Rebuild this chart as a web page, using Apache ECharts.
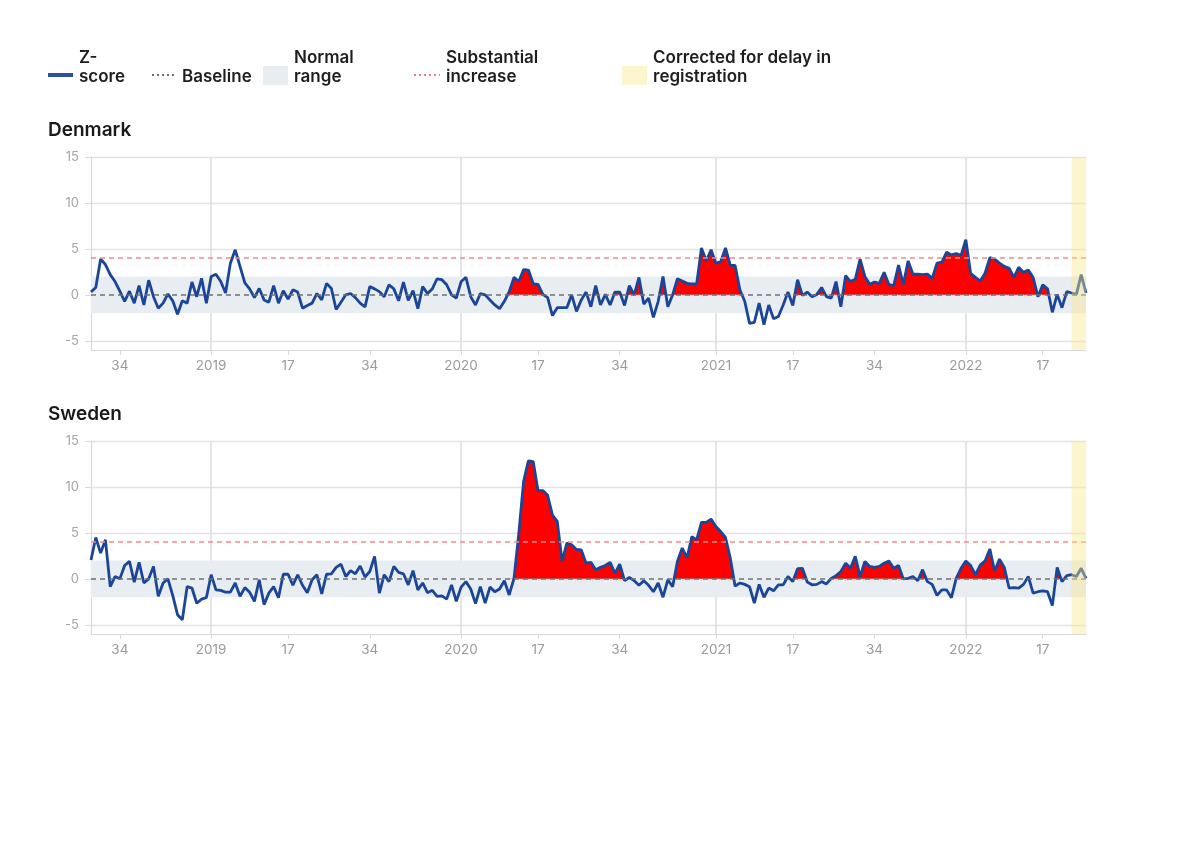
<!DOCTYPE html>
<html>
<head>
<meta charset="utf-8">
<script src="https://cdn.jsdelivr.net/npm/echarts@6/dist/echarts.min.js"></script>
<style>
  html, body { margin: 0; padding: 0; background: #fff; }
  #main { width: 1200px; height: 861px; }
</style>
</head>
<body>
<div id="main"></div>
<script>
// weekly z-scores, 2018 week 28 .. 2022 week 26
var yearWeeks = [[2018, 28, 52], [2019, 1, 52], [2020, 1, 53], [2021, 1, 52], [2022, 1, 26]];
var weeks = [];
yearWeeks.forEach(function (y) {
    for (var w = y[1]; w <= y[2]; w++) weeks.push(y[0] + '-' + w);
});

var labelWeeks = [1, 17, 34];
var yTicks = [-5, 0, 5, 10, 15];

var denmarkZ = [
    0.3, 0.8, 3.9, 3.3, 2.2, 1.45, 0.4, -0.7, 0.4, -0.9,
    1.0, -1.1, 1.6, -0.2, -1.45, -0.9, 0.1, -0.65, -2.1, -0.65,
    -0.9, 1.4, -0.2, 1.8, -0.9, 2.0, 2.25, 1.45, 0.2, 3.45,
    4.9, 3.1, 1.3, 0.65, -0.3, 0.7, -0.55, -0.8, 1.0, -0.9,
    0.45, -0.45, 0.55, 0.3, -1.45, -1.15, -0.9, 0.15, -0.55, 1.25,
    0.7, -1.6, -0.8, 0, 0.15, -0.3, -0.9, -1.3, 0.9, 0.65,
    0.35, -0.2, 1.1, 0.65, -0.65, 1.4, -0.6, 0.45, -1.5, 0.9,
    0.15, 0.65, 1.75, 1.65, 1.1, 0, -0.35, 1.45, 1.9, -0.2,
    -1.1, 0.15, 0, -0.55, -1.1, -1.5, -0.7, 0.35, 1.9, 1.45,
    2.75, 2.7, 1.2, 1.15, 0.05, -0.3, -2.25, -1.4, -1.4, -1.4,
    0, -1.8, -0.55, 0.3, -1.3, 1.0, -1.1, 0.05, -1.1, 0.3,
    0.3, -1.15, 1.0, 0, 1.9, -1.0, -0.35, -2.45, -0.7, 2.0,
    -1.3, 0, 1.75, 1.5, 1.25, 1.2, 1.2, 5.1, 3.7, 4.9,
    3.45, 3.6, 5.1, 3.2, 3.2, 0.55, -0.7, -3.1, -3.0, -0.9,
    -3.25, -1.1, -2.6, -2.35, -1.1, 0.3, -1.15, 1.65, -0.05, 0.3,
    -0.2, 0.05, 0.8, -0.2, -0.35, 1.45, -1.3, 2.1, 1.45, 1.7,
    3.9, 2.0, 1.15, 1.4, 1.25, 2.45, 1.1, 1.0, 3.25, 1.15,
    3.7, 2.25, 2.25, 2.2, 2.25, 1.8, 3.45, 3.55, 4.65, 4.35,
    4.5, 4.3, 6.0, 2.35, 1.9, 1.5, 2.35, 4.05, 3.9, 3.45,
    3.1, 2.9, 1.9, 3.0, 2.45, 2.7, 1.9, -0.2, 1.1, 0.65,
    -1.9, 0.05, -1.4, 0.35, 0.2, 0.05, 2.2, 0.2
];

var swedenZ = [
    2.05, 4.5, 2.8, 4.25, -0.85, 0.25, 0, 1.45, 1.9, -0.35,
    1.8, -0.45, 0, 1.35, -1.9, -0.45, 0, -1.8, -3.9, -4.45,
    -0.85, -1.0, -2.65, -2.2, -2.05, 0.45, -1.2, -1.25, -1.45, -1.45,
    -0.45, -1.9, -0.95, -1.45, -2.45, -0.1, -2.8, -1.55, -0.85, -2.05,
    0.5, 0.5, -0.7, 0.45, -0.7, -1.5, -0.1, 0.45, -1.65, 0.5,
    0.55, 1.25, 1.6, 0.25, 0.9, 0.55, 1.4, 0.2, 0.8, 2.45,
    -1.55, 0.45, -0.3, 1.35, 0.7, 0.55, -0.65, 0.9, -1.2, -0.45,
    -1.5, -1.25, -1.9, -1.85, -2.2, -0.65, -2.45, -0.9, -0.3, -1.1,
    -2.7, -0.85, -2.65, -0.9, -1.4, -1.1, -0.2, -1.75, 0.05, 4.95,
    10.6, 12.85, 12.75, 9.6, 9.6, 9.1, 6.95, 6.25, 1.9, 3.9,
    3.7, 3.2, 3.15, 1.7, 1.8, 1.0, 1.25, 1.45, 1.8, 0.6,
    1.6, -0.2, 0.15, -0.2, -0.7, -0.2, -0.7, -1.4, -0.45, -2.0,
    -0.1, -0.85, 1.9, 3.35, 2.3, 4.6, 4.25, 6.15, 6.15, 6.5,
    5.7, 5.15, 4.5, 2.25, -0.8, -0.45, -0.6, -0.85, -2.65, -0.6,
    -2.0, -1.0, -1.3, -0.65, -0.65, 0.25, -0.3, 1.1, 1.15, -0.35,
    -0.65, -0.6, -0.3, -0.55, 0.05, 0.35, 0.8, 1.7, 1.15, 2.45,
    0.25, 1.9, 1.35, 1.25, 1.35, 1.7, 1.95, 1.15, 1.45, 0,
    0.05, 0.25, -0.2, 1.0, -0.3, -0.6, -1.8, -1.2, -1.2, -2.05,
    0.05, 1.15, 1.95, 1.45, 0.45, 1.5, 1.95, 3.25, 0.8, 2.15,
    1.25, -1.0, -0.95, -1.0, -0.6, 0.25, -1.55, -1.4, -1.3, -1.4,
    -2.9, 1.25, -0.3, 0.35, 0.45, 0.25, 1.15, 0.05
];

// weeks flagged as excess (red fill)
var denmarkExcess = [
    ['2020-11', '2020-18'], ['2020-29', '2020-29'], ['2020-33', '2020-34'],
    ['2020-36', '2020-36'], ['2020-38', '2020-38'], ['2020-43', '2020-43'],
    ['2020-45', '2021-6'], ['2021-18', '2021-18'], ['2021-23', '2021-23'],
    ['2021-26', '2021-26'], ['2021-28', '2022-15'], ['2022-17', '2022-18']
];
var swedenExcess = [
    ['2020-12', '2020-34'], ['2020-46', '2021-4'], ['2021-18', '2021-19'],
    ['2021-26', '2021-39'], ['2021-44', '2021-44'], ['2021-51', '2022-9'],
    ['2022-20', '2022-20']
];

var baseline = 0;
var normalRange = [-2, 2];
var substantial = 4;
var delayWeeks = ['2022-23', '2022-26'];

function excessFill(z, ranges) {
    var flag = z.map(function () { return false; });
    ranges.forEach(function (r) {
        var s = weeks.indexOf(r[0]), e = weeks.indexOf(r[1]);
        for (var i = s; i <= e; i++) flag[i] = true;
    });
    return z.map(function (v, i) {
        return (flag[i] || flag[i - 1] || flag[i + 1]) ? v : '-';
    });
}

function weekOf(v) { return +v.split('-')[1]; }
function showWeek(idx, v) { return labelWeeks.indexOf(weekOf(v)) >= 0; }

var FONT = 'Inter';
var BLUE = '#1b4698';

var grids = [
    { left: 91, right: 114, top: 157, height: 193 },
    { left: 91, right: 114, top: 441, height: 193 }
];

function xAxisFor(i) {
    return {
        type: 'category', gridIndex: i, data: weeks, boundaryGap: false,
        axisLine: { onZero: false, lineStyle: { color: '#d9d9d9', width: 1.2 } },
        axisTick: { interval: showWeek, length: 5, lineStyle: { color: '#d9d9d9' } },
        axisLabel: {
            interval: showWeek, color: '#9a9a9a', fontSize: 13.5, fontFamily: FONT, margin: 9,
            formatter: function (v) {
                var p = v.split('-');
                return +p[1] === 1 ? p[0] : p[1];
            }
        },
        splitLine: {
            show: true,
            interval: function (idx, v) { return weekOf(v) === 1; },
            lineStyle: { color: '#dcdcdc', width: 1.5 }
        }
    };
}

function yAxisFor(i) {
    return {
        type: 'value', gridIndex: i, min: -6, max: 15,
        axisLine: { show: true, lineStyle: { color: '#d9d9d9', width: 1.2 } },
        axisTick: { show: true, length: 6, customValues: yTicks, lineStyle: { color: '#d9d9d9' } },
        axisLabel: { customValues: yTicks, color: '#a6a6a6', fontSize: 13, fontFamily: FONT, margin: 12 },
        splitLine: { lineStyle: { color: '#e3e3e3', width: 1.3 } }
    };
}

function seriesFor(i, z, ranges) {
    return [
        {
            type: 'line', xAxisIndex: i, yAxisIndex: i,
            data: excessFill(z, ranges),
            showSymbol: false, silent: true, connectNulls: false,
            lineStyle: { width: 0 },
            areaStyle: { opacity: 1 },
            z: 2
        },
        {
            type: 'line', xAxisIndex: i, yAxisIndex: i,
            data: z,
            showSymbol: false, silent: true,
            lineStyle: { color: BLUE, width: 2.8 },
            itemStyle: { color: BLUE },
            z: 3,
            markArea: {
                silent: true,
                itemStyle: { color: '#e8edf2' },
                data: [[{ yAxis: normalRange[0] }, { yAxis: normalRange[1] }]]
            },
            markLine: {
                silent: true, symbol: 'none', animation: false,
                label: { show: false },
                data: [
                    { yAxis: baseline, lineStyle: { color: '#707070', type: [5, 4], width: 1.6 } },
                    { yAxis: substantial, lineStyle: { color: '#f08c8c', type: [5, 4], width: 1.6 } }
                ]
            }
        },
        {
            type: 'line', xAxisIndex: i, yAxisIndex: i,
            data: [], silent: true,
            markArea: {
                silent: true, z: 10,
                itemStyle: { color: 'rgba(251, 232, 138, 0.42)' },
                data: [[{ xAxis: delayWeeks[0] }, { xAxis: delayWeeks[1] }]]
            }
        }
    ];
}

function legendText(x, y, text) {
    return {
        type: 'text', x: x, y: y,
        style: { text: text, font: '600 17px ' + FONT, fill: '#1e1e1e', lineHeight: 19, verticalAlign: 'top' }
    };
}

var chart = echarts.init(document.getElementById('main'));

var option = {
    backgroundColor: '#ffffff',
    animation: false,
    title: [
        { text: 'Denmark', left: 48, top: 121, padding: 0, textStyle: { fontSize: 19, fontWeight: 600, fontFamily: FONT, color: '#1a1a1a' } },
        { text: 'Sweden', left: 48, top: 405, padding: 0, textStyle: { fontSize: 19, fontWeight: 600, fontFamily: FONT, color: '#1a1a1a' } }
    ],
    grid: grids,
    xAxis: [xAxisFor(0), xAxisFor(1)],
    yAxis: [yAxisFor(0), yAxisFor(1)],
    visualMap: [0, 3].map(function (s) {
        return {
            show: false, type: 'piecewise', seriesIndex: s, dimension: 1,
            pieces: [
                { gt: -10, lte: 0, color: 'rgba(255, 0, 0, 0)' },
                { gt: 0, lte: 20, color: '#ff0000' }
            ],
            outOfRange: { color: 'rgba(255, 0, 0, 0)' }
        };
    }),
    series: seriesFor(0, denmarkZ, denmarkExcess).concat(seriesFor(1, swedenZ, swedenExcess)),
    graphic: [
        { type: 'line', shape: { x1: 48, y1: 75, x2: 73, y2: 75 }, style: { stroke: '#2d50a0', lineWidth: 4 } },
        legendText(79, 48, 'Z-\nscore'),
        { type: 'line', shape: { x1: 152, y1: 75, x2: 177, y2: 75 }, style: { stroke: '#6e6e6e', lineWidth: 2, lineDash: [2, 3] } },
        legendText(182, 67, 'Baseline'),
        { type: 'rect', shape: { x: 263, y: 66, width: 25, height: 19 }, style: { fill: '#e8edf2' } },
        legendText(294, 48, 'Normal\nrange'),
        { type: 'line', shape: { x1: 414, y1: 75, x2: 440, y2: 75 }, style: { stroke: '#f07878', lineWidth: 2, lineDash: [2, 3] } },
        legendText(446, 48, 'Substantial\nincrease'),
        { type: 'rect', shape: { x: 622, y: 66, width: 25, height: 19 }, style: { fill: '#fdf5cc' } },
        legendText(653, 48, 'Corrected for delay in\nregistration')
    ]
};

chart.setOption(option);
window.onresize = function () { chart.resize(); };
</script>
</body>
</html>
